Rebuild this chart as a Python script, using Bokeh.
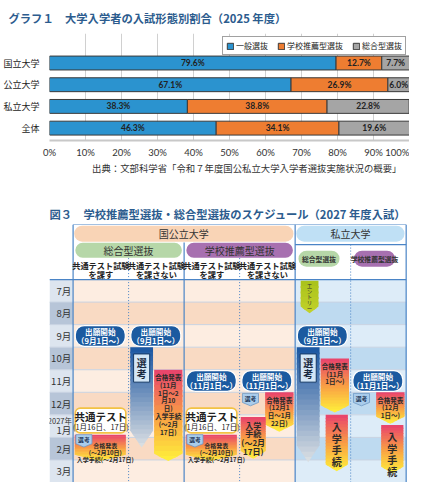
from bokeh.plotting import figure
from bokeh.models import ColumnDataSource, Range1d, FixedTicker, Legend, LegendItem, Title, PrintfTickFormatter
from bokeh.layouts import column
from bokeh.core.properties import value
from bokeh.embed import file_html
from bokeh.resources import INLINE

JP = "Noto Sans CJK JP"
NUM = "Lato"
TITLE_COLOR = "#2c5c8e"

# ---------------- Graph 1 data ----------------
g1_title = "グラフ１　大学入学者の入試形態別割合（2025 年度）"
g1_categories = ["国立大学", "公立大学", "私立大学", "全体"]
g1_series = ["一般選抜", "学校推薦型選抜", "総合型選抜"]
g1_general = [79.6, 67.1, 38.3, 46.3]
g1_recommend = [12.7, 26.9, 38.8, 34.1]
g1_comprehensive = [7.7, 6.0, 22.8, 19.6]
g1_xticks = [0, 10, 20, 30, 40, 50, 60, 70, 80, 90, 100]
g1_source = "出典：文部科学省「令和７年度国公私立大学入学者選抜実施状況の概要」"

# ---------------- Figure 3 data ----------------
f3_title = "図３　学校推薦型選抜・総合型選抜のスケジュール（2027 年度入試）"
f3_months = [7, 8, 9, 10, 11, 12, 13, 14, 15]
f3_month_labels = ["7月", "8月", "9月", "10月", "11月", "12月", "1月", "2月", "3月"]
f3_year_label = "2027年"
f3_year_month = 13
f3_groups = ["国公立大学", "私立大学"]
f3_group_first_col = [0, 4]
f3_group_ncols = [4, 2]
f3_types = ["総合型選抜", "学校推薦型選抜"]
f3_nat_type_first_col = [0, 2]
f3_priv_type_col = [4, 5]
f3_conditions_1 = ["共通テスト試験", "共通テスト試験", "共通テスト試験", "共通テスト試験"]
f3_conditions_2 = ["を課す", "を課さない", "を課す", "を課さない"]

f3_apply_cols = [0, 1, 2, 3, 4, 5]
f3_apply_months = [9, 9, 11, 11, 9, 11]
f3_apply_texts = ["出願開始\n（9月1日～）", "出願開始\n（9月1日～）", "出願開始\n（11月1日～）",
                  "出願開始\n（11月1日～）", "出願開始\n（9月1日～）", "出願開始\n（11月1日～）"]

f3_entry_col = 4
f3_entry_start = 7.05
f3_entry_end = 8.2
f3_entry_text = "エ\nン\nト\nリ\nー"

f3_test_cols = [0, 2]
f3_test_start = 12.7
f3_test_end = 13.8
f3_test_title = "共通テスト"
f3_test_dates = "(1月16日、17日)"

f3_select_arrow_cols = [1, 4]
f3_select_arrow_start = [10.0, 10.0]
f3_select_arrow_end = [14.45, 15.1]
f3_select_text = "選\n考"

f3_select_tag_cols = [0, 2, 3, 5]
f3_select_tag_start = [13.88, 13.88, 12.05, 12.05]
f3_select_tag_text = "選考"

f3_result_cols = [0, 1, 2, 3, 3, 4, 4, 5, 5]
f3_result_kind = ["full", "right", "full", "right", "left", "right", "narrow", "right", "narrow"]
f3_result_start = [13.88, 11.0, 13.88, 12.0, 13.1, 10.5, 13.0, 12.0, 13.45]
f3_result_end = [15.05, 15.05, 15.05, 13.75, 14.95, 12.9, 15.5, 13.4, 15.6]
f3_result_texts = [
    "合格発表\n(～2月10日)\n入学手続(～2月17日)",
    "合格発表\n(11月\n1日～2\n月10\n日)\n入学手続\n(～2月\n17日)",
    "合格発表\n(～2月10日)\n入学手続(～2月17日)",
    "合格発表\n(12月1\n日～1月\n22日)",
    "入学\n手続\n(～2月\n17日)",
    "合格発表\n(11月\n1日～)",
    "入\n学\n手\n続",
    "合格発表\n(12月\n1日～)",
    "入\n学\n手\n続",
]

LH = 0.78  # line-height factor for CJK multi-line text

# ================= Figure 1 =================
n = len(g1_categories)
ypos = [n - 1 - i for i in range(n)]
series_vals = [g1_general, g1_recommend, g1_comprehensive]
series_colors = ["#2b93cf", "#ee7d31", "#a5a5a5"]

p1 = figure(width=409, height=195, x_range=Range1d(0, 100), y_range=Range1d(-0.57, 4.36),
            output_backend="svg", toolbar_location=None,
            min_border_left=41, min_border_right=0, min_border_top=28, min_border_bottom=55)
p1.title.text = g1_title
p1.title.text_font = JP
p1.title.text_font_size = "11.3px"
p1.title.text_font_style = "bold"
p1.title.text_color = TITLE_COLOR
p1.title.offset = -41
p1.title.standoff = 15

left = [0.0] * n
renderers = []
for vals, color in zip(series_vals, series_colors):
    right = [l + v for l, v in zip(left, vals)]
    src = ColumnDataSource(dict(y=ypos, left=left, right=right,
                                mid=[(l + r) / 2 for l, r in zip(left, right)],
                                lab=[f"{v:.1f}%" for v in vals]))
    r = p1.hbar(y="y", left="left", right="right", height=0.64, source=src,
                fill_color=color, line_color="#3a3a3a", line_width=1)
    p1.text(x="mid", y="y", text="lab", source=src, text_font=value(NUM), text_font_style="bold",
            text_font_size="8.5px", text_align="center", text_baseline="middle", text_color="#222222")
    renderers.append(r)
    left = right

p1.xaxis.ticker = FixedTicker(ticks=g1_xticks)
p1.xaxis.formatter = PrintfTickFormatter(format="%d%%")
p1.xaxis.major_label_text_font = NUM
p1.xaxis.major_label_text_font_size = "9.5px"
p1.xaxis.major_label_text_color = "#333333"
p1.xaxis.major_tick_line_color = None
p1.xaxis.minor_tick_line_color = None
p1.xaxis.axis_line_color = "#c8c8c8"
p1.xaxis.axis_line_width = 2
p1.xaxis.major_label_standoff = 0
p1.yaxis.ticker = FixedTicker(ticks=ypos)
p1.yaxis.major_label_overrides = {y: c for y, c in zip(ypos, g1_categories)}
p1.yaxis.major_label_text_font = JP
p1.yaxis.major_label_text_font_size = "9px"
p1.yaxis.major_label_text_color = "#222222"
p1.yaxis.major_tick_line_color = None
p1.yaxis.minor_tick_line_color = None
p1.yaxis.axis_line_color = None
p1.yaxis.major_label_standoff = 4
p1.xgrid.grid_line_color = "#d0d0d0"
p1.ygrid.grid_line_color = None
p1.outline_line_color = None

legend = Legend(items=[LegendItem(label=s, renderers=[r]) for s, r in zip(g1_series, renderers)],
                location="top_right", orientation="horizontal",
                label_text_font=JP, label_text_font_size="8px", label_text_color="#222222",
                glyph_width=8, glyph_height=8, label_height=8, label_width=10,
                label_standoff=2, spacing=9, padding=3, margin=3,
                border_line_color="#444444", border_line_width=1, background_fill_alpha=1)
p1.add_layout(legend)

src_title = Title(text=g1_source, align="right", text_font=JP, text_font_size="9.4px",
                  text_font_style="normal", text_color="#333333", offset=8, standoff=-4)
p1.add_layout(src_title, "below")

# ================= Figure 3 =================
XL = -0.425
NCOLS = sum(f3_group_ncols)
Y_TOP = 4.56
Y_ROWS = f3_months[0]
Y_END = f3_months[-1] + 1
BLUE = "#4a84c6"

p2 = figure(width=409, height=287, x_range=Range1d(XL, 6.06), y_range=Range1d(Y_END, Y_TOP),
            x_axis_type=None, y_axis_type=None, output_backend="svg", toolbar_location=None,
            min_border_left=0, min_border_right=0, min_border_top=29, min_border_bottom=0)
p2.outline_line_color = None
p2.title.text = f3_title
p2.title.text_font = JP
p2.title.text_font_size = "11.3px"
p2.title.text_font_style = "bold"
p2.title.text_color = TITLE_COLOR
p2.title.standoff = 5

# row backgrounds
priv0 = f3_group_first_col[1]
rs = ColumnDataSource(dict(
    top=f3_months, bottom=[m + 1 for m in f3_months],
    mon=["#dde5ef" if i % 2 == 0 else "#b7c5d8" for i in range(len(f3_months))],
    nat=["#fdede1" if i % 2 == 0 else "#f9dac3" for i in range(len(f3_months))],
    pri=["#ddecf8" if i % 2 == 0 else "#bedaf0" for i in range(len(f3_months))],
))
p2.quad(left=XL, right=0, top="top", bottom="bottom", fill_color="mon", line_color=None, source=rs)
p2.quad(left=0, right=priv0, top="top", bottom="bottom", fill_color="nat", line_color=None, source=rs)
p2.quad(left=priv0, right=NCOLS, top="top", bottom="bottom", fill_color="pri", line_color=None, source=rs)

# row separators
seps = [m for m in f3_months[1:]]
p2.segment(x0=[XL] * len(seps), y0=seps, x1=[NCOLS] * len(seps), y1=seps, line_color="#c9d3e2", line_width=1)

# month labels
ml_y = [m + (0.68 if m == f3_year_month else 0.5) for m in f3_months]
p2.text(x=[-0.035] * len(f3_months), y=ml_y, text=f3_month_labels, text_font=value(JP),
        text_font_size="9.5px", text_align="right", text_baseline="middle", text_color="#333333")
p2.text(x=[-0.02], y=[f3_year_month + 0.26], text=[f3_year_label], text_font=value(JP),
        text_font_size="7.5px", text_align="right", text_baseline="middle", text_color="#333333")

# grid lines
solid_x = [0, 2, priv0, NCOLS]
solid_y0 = [Y_TOP, 5.36, Y_TOP, Y_TOP]
p2.segment(x0=solid_x, y0=solid_y0, x1=solid_x, y1=[Y_END] * 4, line_color=BLUE, line_width=1.2)
dot_x = [1, 3, 5]
dot_y0 = [6.05, 6.05, 5.45]
p2.segment(x0=dot_x, y0=dot_y0, x1=dot_x, y1=[Y_END] * 3, line_color=BLUE, line_width=1, line_dash="1 2")
p2.segment(x0=[0, priv0, XL, XL], y0=[Y_TOP, 5.45, Y_ROWS, Y_END], x1=[NCOLS, NCOLS, NCOLS, NCOLS],
           y1=[Y_TOP, 5.45, Y_ROWS, Y_END], line_color=BLUE, line_width=1.2)

# header pills
gx0 = [f + 0.02 for f in f3_group_first_col]
gx1 = [f + k - 0.03 for f, k in zip(f3_group_first_col, f3_group_ncols)]
p2.quad(left=gx0, right=gx1, top=[4.61] * 2, bottom=[5.32] * 2, fill_color=["#f9d4b6", "#bfe0f5"],
        line_color=None, border_radius=8)
p2.text(x=[(a + b) / 2 for a, b in zip(gx0, gx1)], y=[4.97] * 2, text=f3_groups, text_font=value(JP),
        text_font_size="10px", text_align="center", text_baseline="middle", text_color="#333333")

tx0 = [f + 0.04 for f in f3_nat_type_first_col]
tx1 = [f + 2 - 0.04 for f in f3_nat_type_first_col]
p2.quad(left=tx0, right=tx1, top=[5.37] * 2, bottom=[6.03] * 2, fill_color=["#b6d7a8", "#a770b0"],
        line_color=None, border_radius=8)
p2.text(x=[(a + b) / 2 for a, b in zip(tx0, tx1)], y=[5.7] * 2, text=f3_types, text_font=value(JP),
        text_font_size="10px", text_align="center", text_baseline="middle", text_color="#333333")

px0 = [c + 0.06 for c in f3_priv_type_col]
px1 = [c + 0.8 for c in f3_priv_type_col]
p2.quad(left=px0, right=px1, top=[5.72] * 2, bottom=[6.43] * 2, fill_color=["#b6d7a8", "#a770b0"],
        line_color=None, border_radius=8)
p2.text(x=[(a + b) / 2 for a, b in zip(px0, px1)], y=[6.08] * 2, text=f3_types, text_font=value(JP),
        text_font_size="6.8px", text_font_style="bold", text_align="center", text_baseline="middle",
        text_color="#333333")

ccx = [i + 0.5 for i in range(len(f3_conditions_1))]
p2.text(x=ccx, y=[6.36] * 4, text=f3_conditions_1, text_font=value(JP), text_font_size="8.2px",
        text_font_style="bold", text_align="center", text_baseline="middle", text_color="#222222")
p2.text(x=ccx, y=[6.74] * 4, text=f3_conditions_2, text_font=value(JP), text_font_size="8.2px",
        text_font_style="bold", text_align="center", text_baseline="middle", text_color="#222222")


# ---- gradient shapes helpers ----
def hex2rgb(h):
    h = h.lstrip('#')
    return tuple(int(h[i:i + 2], 16) for i in (0, 2, 4))


def lerp_color(stops, t):
    for (p0, c0), (p1_, c1) in zip(stops[:-1], stops[1:]):
        if t <= p1_:
            u = (t - p0) / (p1_ - p0) if p1_ > p0 else 0
            a, b = hex2rgb(c0), hex2rgb(c1)
            return "#%02x%02x%02x" % tuple(int(round(a[i] + (b[i] - a[i]) * u)) for i in range(3))
    return stops[-1][1]


def clip_band(poly, y0, y1):
    def clip(pts, keep, c):
        out = []
        for i in range(len(pts)):
            cur, prev = pts[i], pts[i - 1]
            ci, pi = keep(cur), keep(prev)
            if ci != pi:
                t = (c - prev[1]) / (cur[1] - prev[1])
                out.append((prev[0] + t * (cur[0] - prev[0]), c))
            if ci:
                out.append(cur)
        return out
    pts = clip(poly, lambda p: p[1] >= y0, y0)
    if pts:
        pts = clip(pts, lambda p: p[1] <= y1, y1)
    return pts


def pennant(x0, x1, y0, y1, tip):
    xm = (x0 + x1) / 2
    return [(x0, y0), (x1, y0), (x1, y1 - tip), (xm, y1), (x0, y1 - tip)]


GX, GY, GC = [], [], []


def add_gradient(poly, y0, y1, stops, nb=16):
    h = (y1 - y0) / nb
    for k in range(nb):
        a = y0 + h * k
        b = min(y1, a + h * 1.35)
        pts = clip_band(poly, a, b)
        if len(pts) >= 3:
            GX.append([q[0] for q in pts])
            GY.append([q[1] for q in pts])
            GC.append(lerp_color(stops, (k + 0.5) / nb))


RESULT_STOPS = [(0, "#e8416d"), (0.5, "#f99d45"), (1, "#fff23a")]
ARROW_STOPS = [(0, "#1a56a2"), (0.45, "#6c8fbc"), (1, "#dde1e4")]
KIND = {
    "full": dict(fx=(0.03, 0.95), tip=0.28, size="6px", tx=0.58, pad=0.1),
    "right": dict(fx=(0.46, 0.97), tip=0.32, size="6.5px", tx=None, pad=0.1),
    "left": dict(fx=(0.02, 0.47), tip=0.35, size="8px", tx=None, pad=0.12),
    "narrow": dict(fx=(0.55, 0.95), tip=0.3, size="10px", tx=None, pad=0.18),
}

# 選考 arrows
for c, s, e in zip(f3_select_arrow_cols, f3_select_arrow_start, f3_select_arrow_end):
    x0, x1 = c + 0.03, c + 0.44
    add_gradient(pennant(x0, x1, s, e, 0.75), s, e, ARROW_STOPS, nb=22)

# result pennants
for c, k, s, e in zip(f3_result_cols, f3_result_kind, f3_result_start, f3_result_end):
    st = KIND[k]
    add_gradient(pennant(c + st["fx"][0], c + st["fx"][1], s, e, st["tip"]), s, e, RESULT_STOPS, nb=18)

# entry tag
ex0, ex1 = f3_entry_col + 0.1, f3_entry_col + 0.42
add_gradient(pennant(ex0, ex1, f3_entry_start, f3_entry_end + 0.3, 0.3), f3_entry_start,
             f3_entry_end + 0.3, [(0, "#a9c21b"), (1, "#c3d22a")], nb=6)

p2.patches(xs="xs", ys="ys", fill_color="c", line_color=None,
           source=ColumnDataSource(dict(xs=GX, ys=GY, c=GC)))

# entry text
p2.text(x=[(ex0 + ex1) / 2], y=[f3_entry_start + 0.05], text=[f3_entry_text], text_font=value(JP),
        text_font_size="5.5px", text_align="center", text_baseline="top", text_color="#333333",
        text_line_height=0.72)

# select arrow inner boxes
ax0 = [c + 0.09 for c in f3_select_arrow_cols]
ax1 = [c + 0.38 for c in f3_select_arrow_cols]
p2.quad(left=ax0, right=ax1, top=[s + 0.3 for s in f3_select_arrow_start],
        bottom=[s + 1.55 for s in f3_select_arrow_start], fill_color="#d3e6f6", line_color="#163a66",
        line_width=1)
p2.text(x=[(a + b) / 2 for a, b in zip(ax0, ax1)], y=[s + 0.92 for s in f3_select_arrow_start],
        text=[f3_select_text] * len(ax0), text_font=value(JP), text_font_size="10px",
        text_font_style="bold", text_align="center", text_baseline="middle", text_color="#1a2a40",
        text_line_height=LH)

# result texts
for c, k, s, t in zip(f3_result_cols, f3_result_kind, f3_result_start, f3_result_texts):
    st = KIND[k]
    cx = c + (st["tx"] if st["tx"] is not None else (st["fx"][0] + st["fx"][1]) / 2)
    yy = s + st["pad"] + (0.16 if k == "full" else 0)
    p2.text(x=[cx], y=[yy], text=[t], text_font=value(JP), text_font_size=st["size"],
            text_font_style="bold", text_align="center", text_baseline="top", text_color="#2a2a2a",
            text_line_height=LH)

# select tags
tg_polys_x, tg_polys_y = [], []
for c, s in zip(f3_select_tag_cols, f3_select_tag_start):
    poly = pennant(c + 0.05, c + 0.34, s, s + 0.55, 0.15)
    tg_polys_x.append([q[0] for q in poly])
    tg_polys_y.append([q[1] for q in poly])
p2.patches(xs=tg_polys_x, ys=tg_polys_y, fill_color="#a9cceb", line_color="#6f98c4", line_width=0.8)
p2.text(x=[c + 0.195 for c in f3_select_tag_cols], y=[s + 0.22 for s in f3_select_tag_start],
        text=[f3_select_tag_text] * len(f3_select_tag_cols), text_font=value(JP), text_font_size="5.8px",
        text_font_style="bold", text_align="center", text_baseline="middle", text_color="#1d3557")

# 共通テスト boxes
p2.quad(left=[c + 0.04 for c in f3_test_cols], right=[c + 0.95 for c in f3_test_cols],
        top=[f3_test_start] * len(f3_test_cols), bottom=[f3_test_end] * len(f3_test_cols),
        fill_color="white", line_color="#f2c244", line_width=1.6, border_radius=5)
p2.text(x=[c + 0.5 for c in f3_test_cols], y=[f3_test_start + 0.37] * len(f3_test_cols),
        text=[f3_test_title] * len(f3_test_cols), text_font=value(JP), text_font_size="10.5px",
        text_font_style="bold", text_align="center", text_baseline="middle", text_color="#222222")
p2.text(x=[c + 0.5 for c in f3_test_cols], y=[f3_test_start + 0.8] * len(f3_test_cols),
        text=[f3_test_dates] * len(f3_test_cols), text_font=value(JP), text_font_size="7.5px",
        text_align="center", text_baseline="middle", text_color="#222222")

# 出願開始 pills
p2.quad(left=[c + 0.04 for c in f3_apply_cols], right=[c + 0.94 for c in f3_apply_cols],
        top=[m + 0.04 for m in f3_apply_months], bottom=[m + 0.96 for m in f3_apply_months],
        fill_color="#1b5aa0", line_color="white", line_width=1.2, border_radius=9)
p2.text(x=[c + 0.49 for c in f3_apply_cols], y=[m + 0.5 for m in f3_apply_months], text=f3_apply_texts,
        text_font=value(JP), text_font_size="7.6px", text_font_style="bold", text_align="center",
        text_baseline="middle", text_color="white", text_line_height=LH)

layout = column(p1, p2, spacing=0)
open("out.html", "w").write(file_html(layout, INLINE))
